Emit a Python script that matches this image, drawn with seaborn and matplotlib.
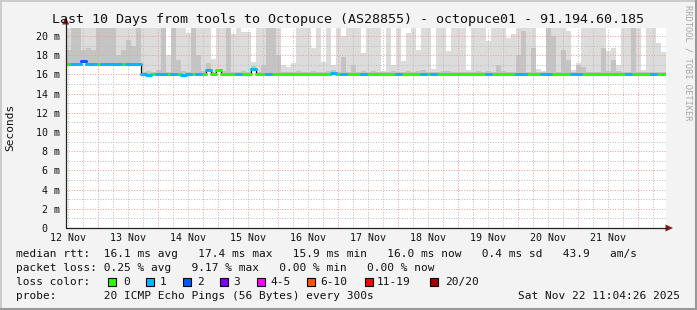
import numpy as np
import pandas as pd
import matplotlib
matplotlib.use("Agg")
import matplotlib.pyplot as plt
import seaborn as sns
from matplotlib.lines import Line2D
from matplotlib.patches import Polygon, Rectangle

# ---------------- data (2-hour bins starting Nov 12 11:00) ----------------
start_day = 11 / 24      # days since Nov 12 00:00
bin_days = 2 / 24        # 2 hours

median = [17.1, 17.1, 17.1, 17.4, 17.05, 17.05, 17.05, 17.05, 17.05, 17.05,
          17.05, 17.05, 17.05, 17.05, 17.1, 16.0, 15.95, 16.0, 16.0, 16.0,
          16.0, 16.0, 16.0, 15.95, 16.0, 16.0, 16.0, 16.0, 16.45, 16.0,
          16.45, 16.0, 16.0, 16.0, 16.0, 16.0, 16.0, 16.6, 16.0, 16.0,
          16.0, 16.0, 16.0, 16.0, 16.0, 16.0, 16.0, 16.0, 16.0, 16.0,
          16.0, 16.0, 16.05, 16.1, 16.05, 16.0, 16.0, 16.0, 16.0, 16.0,
          16.0, 16.0, 16.0, 16.0, 16.0, 16.05, 16.0, 16.0, 16.0, 16.0,
          16.0, 16.0, 16.0, 16.05, 16.0, 16.0, 16.0, 16.0, 16.0, 16.0,
          16.0, 16.0, 16.05, 16.0, 16.0, 16.0, 16.0, 16.0, 16.0, 16.0,
          16.0, 16.0, 16.0, 16.0, 16.0, 16.05, 16.0, 16.0, 16.0, 16.0,
          16.0, 16.0, 16.0, 16.0, 16.0, 16.0, 16.0, 16.0, 16.05, 16.0,
          16.0, 16.0, 16.0, 16.0, 16.0, 16.0, 16.0, 16.05, 16.0, 16.0]

loss = [0, 1, 1, 2, 1, 1, 0, 1, 1, 1,
        1, 0, 1, 1, 1, 1, 1, 0, 1, 1,
        0, 1, 0, 1, 1, 0, 1, 0, 1, 0,
        0, 0, 0, 0, 1, 0, 0, 1, 0, 0,
        1, 0, 0, 0, 0, 0, 0, 0, 0, 0,
        0, 0, 0, 1, 0, 1, 0, 0, 0, 1,
        0, 0, 0, 0, 0, 0, 1, 0, 0, 0,
        0, 1, 0, 1, 0, 0, 0, 0, 0, 0,
        0, 0, 0, 0, 1, 0, 0, 0, 0, 0,
        1, 1, 0, 0, 0, 1, 1, 0, 0, 0,
        0, 1, 1, 0, 0, 0, 0, 0, 0, 0,
        0, 0, 1, 0, 0, 0, 0, 1, 0, 0]

smoke_top = [21, 21, 21, 21, 21, 21, 21, 21, 21, 21,
             21, 21, 21, 21, 21, 21, 21, 21, 21, 21,
             18.0, 21, 21, 21, 20.3, 21, 21, 21, 21, 17.6,
             21, 21, 21, 20.2, 21, 20.4, 20.4, 17.3, 21, 21,
             21, 21, 21, 17.0, 16.8, 17.2, 21, 21, 21, 18.8,
             21, 17.3, 21, 17.0, 21, 20.0, 21, 21, 21, 18.2,
             21, 21, 21, 16.4, 21, 17.0, 21, 17.4, 20.3, 21,
             18.5, 21, 21, 16.6, 21, 21, 18.4, 21, 21, 21,
             16.5, 21, 21, 21, 19.5, 21, 21, 21, 19.8, 20.2,
             21, 21, 21, 21, 16.6, 16.4, 21, 21, 21, 21,
             20.5, 16.5, 17.2, 21, 21, 21, 21, 21, 18.4, 18.8,
             17.0, 21, 21, 21, 21, 16.5, 21, 21, 19.3, 18.3]

smoke_dark = [18.5, 21, 21, 18.5, 18.8, 18.5, 21, 21, 21, 21,
              18.0, 18.5, 19.6, 19.0, 21, 16.3, 16.4, 16.3, 16.5, 21,
              16.3, 21, 17.5, 16.4, 16.3, 21, 18.0, 16.4, 17.2, 16.3,
              16.6, 16.4, 21, 16.3, 16.3, 16.4, 16.3, 16.9, 16.3, 17.0,
              21, 21, 18.0, 16.3, 16.2, 16.3, 16.4, 16.3, 16.3, 16.4,
              16.3, 16.3, 16.4, 16.5, 16.3, 17.8, 16.3, 17.0, 16.3, 16.4,
              16.3, 16.4, 16.3, 16.2, 16.3, 16.4, 16.3, 16.3, 16.4, 16.3,
              16.4, 16.5, 16.3, 16.3, 16.3, 16.4, 16.4, 16.3, 16.3, 16.3,
              16.2, 16.3, 16.4, 16.3, 16.4, 16.3, 17.0, 16.4, 16.3, 16.3,
              18.0, 20.5, 16.3, 18.8, 16.3, 16.2, 21, 20.0, 16.3, 18.5,
              17.5, 16.3, 17.0, 16.8, 16.3, 16.3, 16.3, 18.8, 16.4, 17.5,
              16.4, 16.3, 16.3, 21, 16.3, 16.2, 16.3, 16.3, 16.3, 16.3]

day_labels = ["12 Nov", "13 Nov", "14 Nov", "15 Nov", "16 Nov",
              "17 Nov", "18 Nov", "19 Nov", "20 Nov", "21 Nov"]
y_ticks = [0, 2, 4, 6, 8, 10, 12, 14, 16, 18, 20]
y_labels = ["0  ", "2 m", "4 m", "6 m", "8 m", "10 m", "12 m", "14 m", "16 m", "18 m", "20 m"]

loss_labels = ["0", "1", "2", "3", "4-5", "6-10", "11-19", "20/20"]
loss_colors = ["#26ff00", "#00b8ff", "#0059ff", "#7e00ff", "#ff00ff", "#ff5500", "#ff0000", "#a10000"]

title = "Last 10 Days from tools to Octopuce (AS28855) - octopuce01 - 91.194.60.185"
line_rtt = "median rtt:  16.1 ms avg   17.4 ms max   15.9 ms min   16.0 ms now   0.4 ms sd   43.9   am/s"
line_loss = "packet loss: 0.25 % avg   9.17 % max   0.00 % min   0.00 % now"
line_probe = "probe:       20 ICMP Echo Pings (56 Bytes) every 300s"
stamp = "Sat Nov 22 11:04:26 2025"

# ---------------- style ----------------
sns.set_style("white")
plt.rcParams["font.family"] = ["DejaVu Sans Mono"]
MONO = "DejaVu Sans Mono"

W, H = 697, 310
fig = plt.figure(figsize=(W / 100, H / 100), dpi=100, facecolor="#f3f3f3")


def fx(px):
    return px / W


def fy(py):
    return 1 - py / H


x0 = 0.4611
x1 = x0 + 10
ytop = 20.8
ax = fig.add_axes([fx(65.7), fy(228), 600 / W, ytop * 9.6 / H])
ax.set_facecolor("white")
ax.set_xlim(x0, x1)
ax.set_ylim(0, ytop)
for s in ax.spines.values():
    s.set_visible(False)

n = len(median)
edges = start_day + np.arange(n + 1) * bin_days
med = np.array(median)
bottom = med - 0.2
top_ext = np.append(smoke_top, smoke_top[-1])
dark_ext = np.append(smoke_dark, smoke_dark[-1])
bot_ext = np.append(bottom, bottom[-1])
dark_bot = np.append(med - 0.1, med[-1] - 0.1)

ax.fill_between(edges, bot_ext, top_ext, step="post", color="#dcdcdc", lw=0, zorder=1)
ax.fill_between(edges, dark_bot, np.maximum(dark_ext, dark_bot), step="post",
                color="#c4c4c4", lw=0, zorder=1.1)

# grid
red = "#f29a9a"
grey = "#bdbdbd"
dots = (0, (1, 1.6))
quarter = np.arange(0.25, 11, 0.25)
minor_x = [q for q in quarter if abs(q - round(q)) > 1e-6 and x0 < q < x1]
major_x = [d for d in range(1, 11)]
ax.vlines(minor_x, 0, ytop, colors=grey, linestyles=dots, lw=0.72, zorder=2)
ax.vlines(major_x, 0, ytop, colors=red, linestyles=dots, lw=0.72, zorder=2.1)
ax.hlines([v for v in range(1, 21, 2)], x0, x1, colors=grey, linestyles=dots, lw=0.72, zorder=2)
ax.hlines([v for v in y_ticks if v > 0], x0, x1, colors=red, linestyles=dots, lw=0.72, zorder=2.1)

# median: black steps then colored loss segments
med_ext = np.append(med, med[-1])
sns.lineplot(x=edges, y=med_ext, drawstyle="steps-post", color="#111111", lw=0.9,
             estimator=None, ax=ax, zorder=3)
rows = []
for k in range(n):
    rows.append(dict(x=edges[k], y=median[k], seg=k, loss=str(loss[k])))
    rows.append(dict(x=edges[k + 1], y=median[k], seg=k, loss=str(loss[k])))
seg_df = pd.DataFrame(rows)
pal = {str(i): loss_colors[i] for i in range(3)}
sns.lineplot(data=seg_df, x="x", y="y", units="seg", hue="loss", palette=pal,
             estimator=None, sort=False, lw=2.2, legend=False, ax=ax, zorder=4)

# ticks
ax.set_xticks([i + 0.5 for i in range(len(day_labels))])
ax.set_xticklabels(day_labels)
ax.set_yticks(y_ticks)
ax.set_yticklabels(y_labels)
ax.tick_params(axis="both", length=0, labelsize=7.2, colors="#111111")
ax.tick_params(axis="y", pad=4.2)
ax.tick_params(axis="x", pad=3.5)
ax.set_xlabel("")
ax.set_ylabel("")

# axes lines with arrows
axis_col = "#222222"
arrow_col = "#8a1c1c"
fig.add_artist(Line2D([fx(65.7), fx(65.7)], [fy(228), fy(22)], color=axis_col, lw=0.9))
fig.add_artist(Line2D([fx(65.7), fx(667)], [fy(228), fy(228)], color=axis_col, lw=0.9))
fig.add_artist(Polygon([[fx(62.2), fy(24.5)], [fx(69.2), fy(24.5)], [fx(65.7), fy(17)]],
                       closed=True, color=arrow_col, lw=0))
fig.add_artist(Polygon([[fx(665.5), fy(224.5)], [fx(665.5), fy(231.5)], [fx(673), fy(228)]],
                       closed=True, color=arrow_col, lw=0))

# texts
fig.text(fx(347.5), fy(19), title, ha="center", va="center", fontsize=9.6, family=MONO, color="#111111")
fig.text(fx(10), fy(127), "Seconds", ha="center", va="center", rotation=90, fontsize=8, family=MONO,
         color="#111111")
fig.text(fx(688), fy(5), "RRDTOOL / TOBI OETIKER", ha="center", va="top", rotation=270,
         fontsize=6.3, family=MONO, color="#a8a8a8")

fig.text(fx(16), fy(254), line_rtt, ha="left", va="center", fontsize=8, family=MONO, color="#111111")
fig.text(fx(16), fy(268), line_loss, ha="left", va="center", fontsize=8, family=MONO, color="#111111")
fig.text(fx(16), fy(282), "loss color:", ha="left", va="center", fontsize=8, family=MONO, color="#111111")
fig.text(fx(16), fy(296), line_probe, ha="left", va="center", fontsize=8, family=MONO, color="#111111")
fig.text(fx(680), fy(296), stamp, ha="right", va="center", fontsize=8, family=MONO, color="#111111")

box_x = [108, 146, 183, 220, 257, 307, 365, 430]
lab_x = [123, 160, 197, 233, 270, 320, 377, 445]
for bx, lx, c, lab in zip(box_x, lab_x, loss_colors, loss_labels):
    fig.add_artist(Rectangle((fx(bx), fy(286)), 8 / W, 8 / H, facecolor=c, edgecolor="black",
                             lw=0.8, transform=fig.transFigure))
    fig.text(fx(lx), fy(282), lab, ha="left", va="center", fontsize=8, family=MONO, color="#111111")

# frame
fig.add_artist(Line2D([0, 1], [fy(0.7), fy(0.7)], color="#cbcbcb", lw=1.4))
fig.add_artist(Line2D([fx(0.7), fx(0.7)], [0, 1], color="#cbcbcb", lw=1.4))
fig.add_artist(Line2D([0, 1], [fy(309), fy(309)], color="#999999", lw=1.5))
fig.add_artist(Line2D([fx(696), fx(696)], [0, 1], color="#999999", lw=1.5))

fig.savefig("out.png", dpi=100, facecolor=fig.get_facecolor())
